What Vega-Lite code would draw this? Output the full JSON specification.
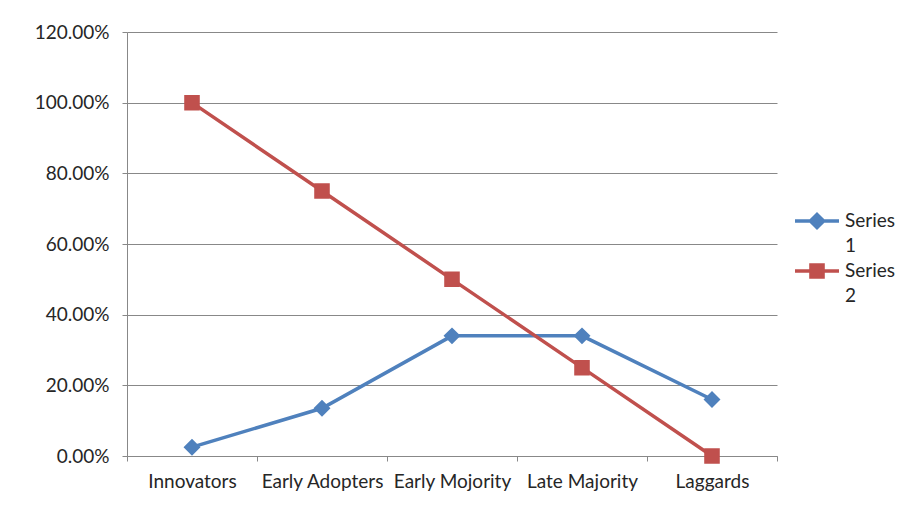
{
  "$schema": "https://vega.github.io/schema/vega-lite/v6.json",
  "width": 650,
  "height": 424,
  "autosize": "none",
  "padding": {"left": 127, "top": 32, "right": 128, "bottom": 49},
  "background": "white",
  "config": {
    "view": {"stroke": null},
    "font": "Lato",
    "axis": {"labelFont": "Lato", "labelFontSize": 19, "labelColor": "#262626", "domainColor": "#888888", "tickColor": "#888888", "gridColor": "#888888", "gridOpacity": 1, "title": null}
  },
  "data": {
    "values": [
      {"stage": "Innovators", "series": "Series 1", "value": 0.025},
      {"stage": "Early Adopters", "series": "Series 1", "value": 0.135},
      {"stage": "Early Mojority", "series": "Series 1", "value": 0.34},
      {"stage": "Late Majority", "series": "Series 1", "value": 0.34},
      {"stage": "Laggards", "series": "Series 1", "value": 0.16},
      {"stage": "Innovators", "series": "Series 2", "value": 1.0},
      {"stage": "Early Adopters", "series": "Series 2", "value": 0.75},
      {"stage": "Early Mojority", "series": "Series 2", "value": 0.5},
      {"stage": "Late Majority", "series": "Series 2", "value": 0.25},
      {"stage": "Laggards", "series": "Series 2", "value": 0.0}
    ]
  },
  "encoding": {
    "x": {
      "field": "stage", "type": "nominal", "sort": null,
      "bandPosition": 0.5,
      "scale": {"type": "band", "paddingInner": 0, "paddingOuter": 0},
      "axis": {"labelAngle": 0, "grid": false, "tickSize": 5, "tickBand": "extent", "labelPadding": 11, "labelBaseline": "top", "domainWidth": 1}
    },
    "y": {
      "field": "value", "type": "quantitative",
      "scale": {"domain": [0, 1.2], "nice": false},
      "axis": {"values": [0, 0.2, 0.4, 0.6, 0.8, 1.0, 1.2], "format": ".2%", "tickSize": 5, "labelPadding": 13, "grid": true, "domain": true}
    },
    "color": {
      "field": "series", "type": "nominal",
      "scale": {"domain": ["Series 1", "Series 2"], "range": ["#4F81BD", "#C0504D"]},
      "legend": {
        "orient": "none", "legendX": 677, "legendY": 176, "title": null,
        "symbolSize": 484, "symbolStrokeWidth": 3.5,
        "labelFont": "Lato", "labelFontSize": 19, "labelColor": "#262626",
        "labelExpr": "['Series', split(datum.label, ' ')[1]]",
        "rowPadding": 1, "labelOffset": 15,
        "encode": {
          "symbols": {"update": {"stroke": {"scale": "color", "field": "value"}}},
          "labels": {"update": {"lineHeight": {"value": 25}}}
        }
      }
    }
  },
  "layer": [
    {
      "mark": {"type": "line", "strokeWidth": 3.5}
    },
    {
      "mark": {"type": "point", "filled": true, "opacity": 1, "size": 800},
      "encoding": {
        "shape": {
          "field": "series", "type": "nominal",
          "scale": {"domain": ["Series 1", "Series 2"], "range": ["M-2,0H2M0,-0.6L0.6,0L0,0.6L-0.6,0Z", "M-2,0H2M-0.55,-0.55H0.55V0.55H-0.55Z"]},
          "legend": {
            "orient": "none", "legendX": 677, "legendY": 176, "title": null,
            "symbolSize": 484, "symbolStrokeWidth": 3.5,
            "labelFont": "Lato", "labelFontSize": 19, "labelColor": "#262626",
            "labelExpr": "['Series', split(datum.label, ' ')[1]]",
            "rowPadding": 1, "labelOffset": 15,
            "encode": {
              "symbols": {"update": {"stroke": {"scale": "color", "field": "value"}}},
              "labels": {"update": {"lineHeight": {"value": 25}}}
            }
          }
        }
      }
    }
  ]
}
